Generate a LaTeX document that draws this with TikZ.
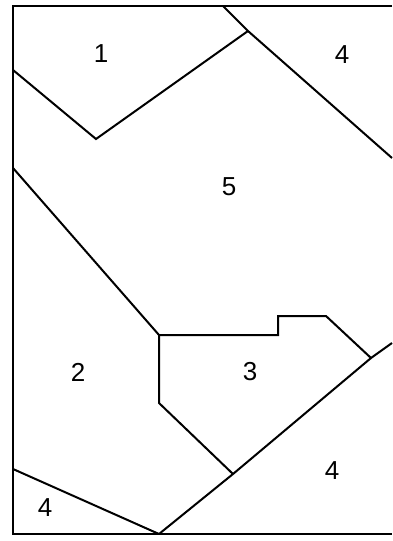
\documentclass[tikz,border=0pt]{standalone}
\usepackage{fontspec}
\setmainfont{Liberation Sans}
\begin{document}
\begin{tikzpicture}[x=1pt,y=-1pt,
  edge/.style={line width=2pt,line join=miter,line cap=butt},
  lbl/.style={font=\fontsize{26}{26}\selectfont,inner sep=0pt}]
\useasboundingbox (0,0) rectangle (392,541);
% vertices
\coordinate (TL) at (13,6);
\coordinate (TR) at (392,6);
\coordinate (BL) at (13,534);
\coordinate (BR) at (392,534);
\coordinate (T4) at (223,6);
\coordinate (K1) at (248,31);
\coordinate (R1) at (392,158);
\coordinate (L1) at (13,70);
\coordinate (V1) at (96,139);
\coordinate (L2) at (13,168);
\coordinate (J1) at (159,335);
\coordinate (S1) at (278,335);
\coordinate (S2) at (278,316);
\coordinate (S3) at (326,316);
\coordinate (V3) at (371,358);
\coordinate (R2) at (392,343);
\coordinate (J2) at (159,403);
\coordinate (J3) at (233,474);
\coordinate (B1) at (159,534);
\coordinate (L3) at (13,469);
% frame
\draw[edge] (TR) -- (TL) -- (BL) -- (BR);
% boundaries
\draw[edge] (T4) -- (K1) -- (R1);
\draw[edge] (L1) -- (V1) -- (K1);
\draw[edge] (L2) -- (J1) -- (S1) -- (S2) -- (S3) -- (V3) -- (R2);
\draw[edge] (V3) -- (J3) -- (B1);
\draw[edge] (J1) -- (J2) -- (J3);
\draw[edge] (L3) -- (B1);
% labels
\node[lbl] (n1) at (101,54) {1};
\node[lbl] (n4a) at (342,55) {4};
\node[lbl] (n5) at (229,187) {5};
\node[lbl] (n2) at (78,372) {2};
\node[lbl] (n3) at (250,372) {3};
\node[lbl] (n4b) at (332,471) {4};
\node[lbl] (n4c) at (45,508) {4};
\end{tikzpicture}
\end{document}
